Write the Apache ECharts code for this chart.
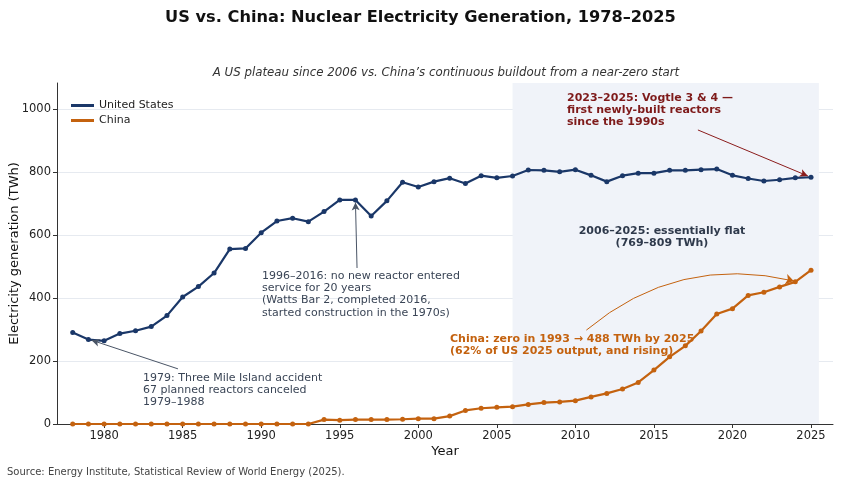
<!DOCTYPE html>
<html>
<head>
<meta charset="utf-8">
<script src="https://cdn.jsdelivr.net/npm/echarts@6/dist/echarts.min.js"></script>
<style>
  html, body { margin: 0; padding: 0; background: #fff; }
  #chart { width: 841px; height: 485px; }
</style>
</head>
<body>
<div id="chart"></div>
<script>
// years and generation in TWh
var years = [1978, 1979, 1980, 1981, 1982, 1983, 1984, 1985, 1986, 1987,
  1988, 1989, 1990, 1991, 1992, 1993, 1994, 1995, 1996, 1997,
  1998, 1999, 2000, 2001, 2002, 2003, 2004, 2005, 2006, 2007,
  2008, 2009, 2010, 2011, 2012, 2013, 2014, 2015, 2016, 2017,
  2018, 2019, 2020, 2021, 2022, 2023, 2024, 2025];
var usGen = [290, 268, 264, 287, 296, 309, 344, 403, 436, 479,
  555, 557, 607, 644, 653, 642, 674, 711, 711, 660,
  708, 767, 752, 769, 780, 763, 788, 781, 787, 806,
  805, 800, 807, 789, 769, 788, 796, 796, 805, 805,
  807, 809, 789, 779, 771, 775, 781, 783];
var chinaGen = [0, 0, 0, 0, 0, 0, 0, 0, 0, 0,
  0, 0, 0, 0, 0, 0, 14, 12, 14, 14,
  14, 15, 17, 17, 25, 43, 50, 53, 55, 62,
  68, 70, 74, 86, 97, 111, 132, 171, 213, 248,
  295, 349, 366, 408, 418, 435, 451, 488];
var xTicks = [1980, 1985, 1990, 1995, 2000, 2005, 2010, 2015, 2020, 2025];
var yTicks = [0, 200, 400, 600, 800, 1000];

var FONT = "DejaVu Sans";
var US_COLOR = "#1a3768";
var CN_COLOR = "#c4620f";
var NOTE_GRAY = "#3a4556";

function pairs(vals) {
  return years.map(function (y, i) { return [y, vals[i]]; });
}
function plain(v) { return String(v); }

var myChart = echarts.init(document.getElementById("chart"));

var option = {
  animation: false,
  backgroundColor: "#fff",
  textStyle: { fontFamily: FONT },
  title: [
    {
      text: "US vs. China: Nuclear Electricity Generation, 1978–2025",
      left: "center",
      top: 5,
      textStyle: { fontFamily: FONT, fontSize: 16.2, fontWeight: "bold", color: "#111" }
    },
    {
      text: "A US plateau since 2006 vs. China’s continuous buildout from a near-zero start",
      left: 441,
      textAlign: "center",
      top: 62,
      textStyle: { fontFamily: FONT, fontSize: 11.8, fontStyle: "italic", fontWeight: "normal", color: "#333" }
    }
  ],
  legend: {
    data: ["United States", "China"],
    orient: "vertical",
    left: 66,
    top: 95,
    itemGap: 4,
    itemWidth: 23,
    itemHeight: 3,
    icon: "rect",
    textStyle: { fontFamily: FONT, fontSize: 11, color: "#222" }
  },
  grid: { left: 57, right: 8, top: 83, bottom: 61, containLabel: false, outerBoundsMode: "none" },
  xAxis: {
    type: "value",
    min: 1977,
    max: 2026.4,
    name: "Year",
    nameLocation: "middle",
    nameGap: 21,
    nameMoveOverlap: false,
    nameTextStyle: { fontFamily: FONT, fontSize: 13, color: "#111" },
    axisLine: { show: true, lineStyle: { color: "#333", width: 1 } },
    axisTick: { show: true, customValues: xTicks, length: 4, lineStyle: { color: "#333" } },
    axisLabel: { customValues: xTicks, formatter: plain, fontFamily: FONT, fontSize: 11.5, color: "#222", margin: 6 },
    splitLine: { show: false }
  },
  yAxis: {
    type: "value",
    min: 0,
    max: 1082,
    name: "Electricity generation (TWh)",
    nameLocation: "middle",
    nameGap: 36,
    nameMoveOverlap: false,
    nameTextStyle: { fontFamily: FONT, fontSize: 13, color: "#111" },
    axisLine: { show: true, lineStyle: { color: "#333", width: 1 } },
    axisTick: { show: true, customValues: yTicks, length: 4, lineStyle: { color: "#333" } },
    axisLabel: { customValues: yTicks, formatter: plain, fontFamily: FONT, fontSize: 11.5, color: "#222", margin: 6 },
    splitLine: { show: true, customValues: yTicks, lineStyle: { color: "#e6eaf0", width: 1 } }
  },
  series: [
    {
      // shaded plateau period
      type: "line",
      data: [],
      z: 1,
      silent: true,
      markArea: {
        silent: true,
        itemStyle: { color: "#f0f3f9", opacity: 1 },
        data: [[{ xAxis: 2006, yAxis: 0 }, { xAxis: 2025.5, yAxis: 1082 }]]
      }
    },
    {
      name: "United States",
      type: "line",
      data: pairs(usGen),
      color: US_COLOR,
      symbol: "circle",
      symbolSize: 5,
      lineStyle: { width: 2.2, color: US_COLOR },
      itemStyle: { color: US_COLOR },
      z: 4
    },
    {
      name: "China",
      type: "line",
      data: pairs(chinaGen),
      color: CN_COLOR,
      symbol: "circle",
      symbolSize: 5,
      lineStyle: { width: 2.2, color: CN_COLOR },
      itemStyle: { color: CN_COLOR },
      z: 4
    },
    {
      // straight annotation arrows
      type: "line",
      data: [],
      z: 5,
      silent: true,
      markLine: {
        silent: true,
        symbol: ["none", "arrow"],
        symbolSize: [6, 8],
        label: { show: false },
        emphasis: { disabled: true },
        lineStyle: { type: "solid", width: 1 },
        data: [
          [{ coord: [1984.7, 175], lineStyle: { color: "#4a5566", type: "solid" } }, { coord: [1979.2, 266] }],
          [{ coord: [1996.1, 495], lineStyle: { color: "#4a5566", type: "solid" } }, { coord: [1996.0, 703] }],
          [{ coord: [2017.8, 933], lineStyle: { color: "#8b1c1c", type: "solid" } }, { coord: [2024.8, 787] }]
        ]
      }
    },
    {
      // curved China arrow
      type: "lines",
      coordinateSystem: "cartesian2d",
      z: 5,
      silent: true,
      symbol: ["none", "arrow"],
      symbolSize: [6, 8],
      lineStyle: { type: "solid", width: 1, color: CN_COLOR, curveness: 0.25, opacity: 1 },
      data: [
        { coords: [[2010.7, 298], [2023.9, 454]] }
      ]
    }
  ],
  graphic: [
    {
      type: "text", left: 143, top: 372, z: 100,
      style: {
        text: "1979: Three Mile Island accident\n67 planned reactors canceled\n1979–1988",
        font: "11px " + FONT, fill: NOTE_GRAY, lineHeight: 12
      }
    },
    {
      type: "text", left: 262, top: 270, z: 100,
      style: {
        text: "1996–2016: no new reactor entered\nservice for 20 years\n(Watts Bar 2, completed 2016,\nstarted construction in the 1970s)",
        font: "11px " + FONT, fill: NOTE_GRAY, lineHeight: 12.2
      }
    },
    {
      type: "text", left: 567, top: 92, z: 100,
      style: {
        text: "2023–2025: Vogtle 3 & 4 —\nfirst newly-built reactors\nsince the 1990s",
        font: "bold 11px " + FONT, fill: "#7e1a1a", lineHeight: 12.2
      }
    },
    {
      type: "text", x: 662, y: 225, z: 100,
      style: {
        text: "2006–2025: essentially flat\n(769–809 TWh)",
        font: "bold 11px " + FONT, fill: "#2f3a4c", lineHeight: 11.8, align: "center"
      }
    },
    {
      type: "text", left: 450, top: 333, z: 100,
      style: {
        text: "China: zero in 1993 → 488 TWh by 2025\n(62% of US 2025 output, and rising)",
        font: "bold 11px " + FONT, fill: CN_COLOR, lineHeight: 11.8
      }
    },
    {
      type: "text", left: 7, top: 467, z: 100,
      style: {
        text: "Source: Energy Institute, Statistical Review of World Energy (2025).",
        font: "10px " + FONT, fill: "#444"
      }
    }
  ]
};

myChart.setOption(option);
</script>
</body>
</html>
